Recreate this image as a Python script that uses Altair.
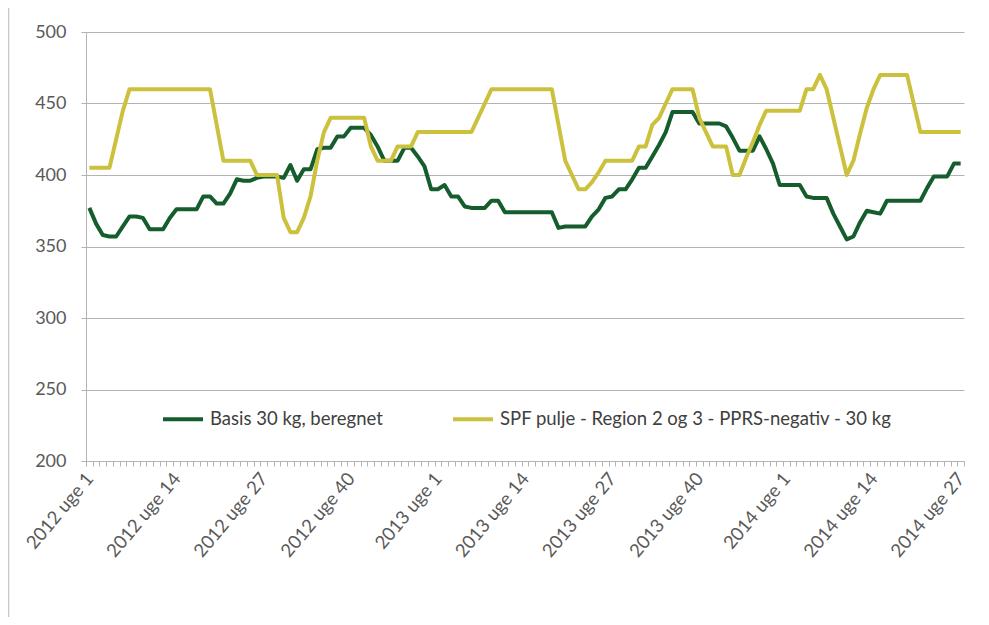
import json
import altair as alt
import pandas as pd

# ---- data -------------------------------------------------------------
years = [2012] * 52 + [2013] * 52 + [2014] * 27
week_nums = list(range(1, 53)) + list(range(1, 53)) + list(range(1, 28))
weeks = [f"{y} uge {w}" for y, w in zip(years, week_nums)]

tick_labels = ["2012 uge 1", "2012 uge 14", "2012 uge 27", "2012 uge 40",
               "2013 uge 1", "2013 uge 14", "2013 uge 27", "2013 uge 40",
               "2014 uge 1", "2014 uge 14", "2014 uge 27"]

basis = [377, 366, 358, 357, 357, 364, 371, 371, 370, 362,
         362, 362, 370, 376, 376, 376, 376, 385, 385, 380,
         380, 387, 397, 396, 396, 398, 399, 399, 399, 398,
         407, 396, 404, 404, 418, 419, 419, 427, 427, 433,
         433, 433, 428, 420, 410, 410, 410, 419, 419, 413,
         406, 390, 390, 393, 385, 385, 378, 377, 377, 377,
         382, 382, 374, 374, 374, 374, 374, 374, 374, 374,
         363, 364, 364, 364, 364, 371, 376, 384, 385, 390,
         390, 397, 405, 405, 413, 421, 430, 444, 444, 444,
         444, 436, 436, 436, 436, 434, 426, 417, 417, 417,
         427, 418, 408, 393, 393, 393, 393, 385, 384, 384,
         384, 373, 364, 355, 357, 367, 375, 374, 373, 382,
         382, 382, 382, 382, 382, 391, 399, 399, 399, 408,
         408]

spf = [405, 405, 405, 405, 425, 445, 460, 460, 460, 460,
       460, 460, 460, 460, 460, 460, 460, 460, 460, 435,
       410, 410, 410, 410, 410, 400, 400, 400, 400, 370,
       360, 360, 370, 385, 410, 430, 440, 440, 440, 440,
       440, 440, 420, 410, 410, 410, 420, 420, 420, 430,
       430, 430, 430, 430, 430, 430, 430, 430, 440, 450,
       460, 460, 460, 460, 460, 460, 460, 460, 460, 460,
       435, 410, 400, 390, 390, 395, 402, 410, 410, 410,
       410, 410, 420, 420, 435, 440, 450, 460, 460, 460,
       460, 440, 430, 420, 420, 420, 400, 400, 412, 423,
       435, 445, 445, 445, 445, 445, 445, 460, 460, 470,
       460, 440, 420, 400, 410, 429, 447, 460, 470, 470,
       470, 470, 470, 450, 430, 430, 430, 430, 430, 430,
       430]

series_names = ["Basis 30 kg, beregnet",
                "SPF pulje - Region 2 og 3 - PPRS-negativ - 30 kg"]
series_colors = ["#155d2c", "#cbc13d"]

rows = []
for i, w in enumerate(weeks):
    rows.append({"week": w, "serie": series_names[0], "value": basis[i]})
    rows.append({"week": w, "serie": series_names[1], "value": spf[i]})
df = pd.DataFrame(rows)

FONT = "Lato"
TXT = "#595959"
GRID = "#b3b3b3"

label_expr = ("indexof(" + json.dumps(tick_labels) +
              ", datum.value) >= 0 ? datum.value : ''")

lines = alt.Chart(df).mark_line(strokeWidth=4, strokeJoin="round").encode(
    x=alt.X("week:N", sort=weeks, bandPosition=0.5,
            scale=alt.Scale(type="band", paddingInner=0, paddingOuter=0),
            axis=alt.Axis(title=None, tickBand="extent", labelExpr=label_expr,
                          labelAngle=310, labelAlign="right",
                          labelBaseline="middle", labelPadding=9,
                          labelOverlap=False, labelFontSize=18.5,
                          labelColor=TXT, labelFont=FONT, labelLimit=0,
                          tickSize=5, tickColor=GRID, domainColor=GRID,
                          grid=False)),
    y=alt.Y("value:Q",
            scale=alt.Scale(domain=[200, 500], nice=False, zero=False),
            axis=alt.Axis(title=None, values=[200, 250, 300, 350, 400, 450, 500],
                          labelFontSize=18, labelColor=TXT, labelFont=FONT,
                          labelPadding=15, tickSize=5, tickColor=GRID,
                          domainColor=GRID, gridColor=GRID)),
    color=alt.Color("serie:N",
                    scale=alt.Scale(domain=series_names, range=series_colors),
                    legend=alt.Legend(title=None, orient="none",
                                      legendX=75, legendY=365,
                                      direction="horizontal",
                                      symbolType="stroke", symbolSize=1600,
                                      symbolStrokeWidth=4, labelLimit=0,
                                      labelFontSize=18.5, labelColor="#404040",
                                      labelFont=FONT, columnPadding=62,
                                      labelOffset=5)),
)

frame = alt.Chart(alt.Data(values=[{"a": 1}])).mark_rule(
    color="#c8c8c8", strokeWidth=1.5).encode(
    x=alt.value(-77.5), y=alt.value(-40), y2=alt.value(640))

chart = alt.layer(frame, lines).properties(
    width=878, height=429,
    background="white",
    autosize=alt.AutoSizeParams(type="none"),
    padding={"left": 78, "top": 24, "right": 17, "bottom": 156},
).configure_view(stroke=None)

chart.save("out.html", embed_options={"renderer": "svg", "actions": False})
